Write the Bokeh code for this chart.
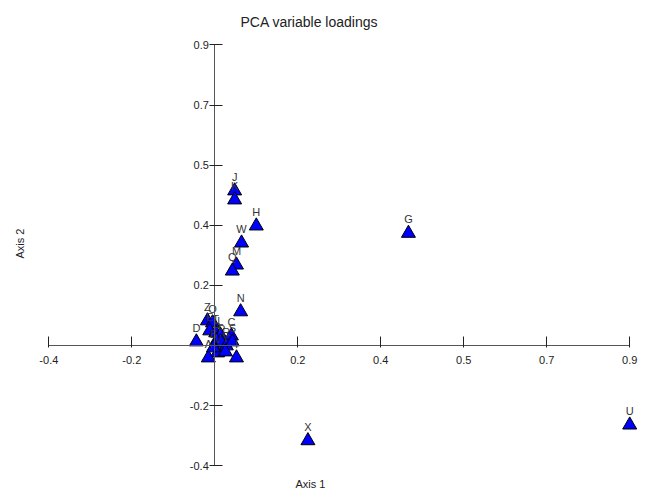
from bokeh.plotting import figure
from bokeh.models import ColumnDataSource, FixedTicker, Title, Range1d
from bokeh.core.properties import value
from bokeh.embed import file_html
from bokeh.resources import INLINE

# Variable loadings (Axis 1, Axis 2)
names = ["G", "H", "J", "K", "M", "Q", "W", "N", "U", "X",
         "Z", "O", "E", "T", "L", "C", "F", "P", "R", "S",
         "V", "Y", "A", "I", "B", "D"]
axis1 = [0.420, 0.090, 0.043, 0.043, 0.047, 0.038, 0.058, 0.056, 0.900, 0.202,
         -0.016, -0.005, -0.011, 0.002, 0.012, 0.036, 0.004, 0.015, 0.025, 0.038,
         0.006, 0.023, -0.014, 0.047, -0.003, -0.040]
axis2 = [0.336, 0.358, 0.463, 0.436, 0.241, 0.223, 0.307, 0.101, -0.238, -0.285,
         0.074, 0.068, 0.044, 0.038, 0.032, 0.029, 0.014, 0.008, -0.001, 0.011,
         -0.022, -0.019, -0.037, -0.037, -0.007, 0.011]

tick_values = [-0.36, -0.18, 0.18, 0.36, 0.54, 0.72, 0.9]
tick_labels = ["-0.4", "-0.2", "0.2", "0.4", "0.5", "0.7", "0.9"]

FONT = "Liberation Sans"

p = figure(width=648, height=499, output_backend="svg", toolbar_location=None,
           x_range=Range1d(-0.3998, 0.9234), y_range=Range1d(-0.3743, 0.9132),
           min_border_left=30, min_border_right=8, min_border_top=40, min_border_bottom=29)
p.title.text = "PCA variable loadings"
p.title.text_font = FONT
p.title.text_font_size = "14px"
p.title.text_font_style = "normal"
p.title.text_color = "#222222"
p.title.align = "left"
p.title.offset = 210
p.title.standoff = 21

p.add_layout(Title(text="Axis 1", align="left", offset=265, vertical_align="bottom",
                   text_font=FONT, text_font_size="11px", text_font_style="normal",
                   text_color="#222222"), "below")
p.add_layout(Title(text="Axis 2", align="left", offset=212, text_font=FONT,
                   text_font_size="11px", text_font_style="normal", text_color="#222222"), "left")

p.outline_line_color = None
p.grid.visible = False
p.background_fill_color = "white"

ticker = FixedTicker(ticks=tick_values)
overrides = {v: l for v, l in zip(tick_values, tick_labels)}
for ax in (p.xaxis[0], p.yaxis[0]):
    ax.fixed_location = 0
    ax.ticker = ticker
    ax.major_label_overrides = overrides
    ax.bounds = (-0.36, 0.9)
    ax.minor_tick_line_color = None
    ax.axis_line_color = "#555555"
    ax.major_tick_line_color = "#222222"
    ax.major_label_text_font = FONT
    ax.major_label_text_font_size = "11px"
    ax.major_label_text_color = "#222222"

p.xaxis.major_tick_in = 9
p.xaxis.major_tick_out = 2
p.xaxis.major_label_standoff = 9
p.yaxis.major_tick_in = 8
p.yaxis.major_tick_out = 5
p.yaxis.major_label_standoff = 1

src = ColumnDataSource(dict(x=axis1, y=axis2, name=names))
p.scatter("x", "y", source=src, marker="triangle", size=14,
          fill_color="#0000ff", line_color="black", line_width=1)
p.text("x", "y", text="name", source=src, text_align="center",
       text_baseline="alphabetic", y_offset=-14, text_font_size="11px",
       text_font=value(FONT), text_color="#333333")

open("out.html", "w").write(file_html(p, INLINE))
